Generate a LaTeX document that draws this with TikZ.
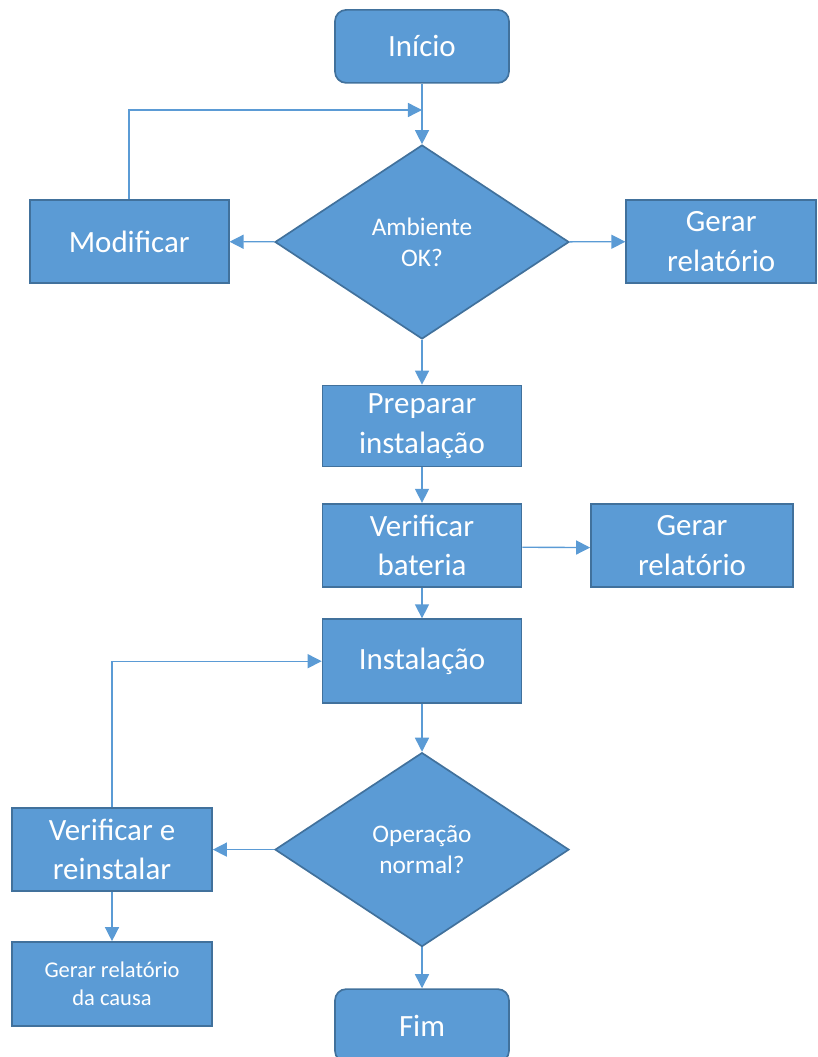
\documentclass[tikz,border=0pt]{standalone}
\usepackage{fontspec}
\setmainfont{Carlito}
\usetikzlibrary{shapes.geometric, arrows.meta, positioning}
\definecolor{boxblue}{HTML}{5B9BD5}
\definecolor{edgeblue}{HTML}{41719C}

\begin{document}
\begin{tikzpicture}[thick,
    main/.style = {draw=edgeblue, fill=boxblue, line width=1.2pt, text=white, align=center,
                   font=\fontsize{22}{28}\selectfont, minimum width=4.975cm, minimum height=2.075cm, inner sep=0pt},
    term/.style = {main, rounded corners=8pt, minimum width=4.35cm, minimum height=1.825cm},
    decision/.style = {main, diamond, minimum width=7.35cm, minimum height=4.85cm, font=\fontsize{18}{22}\selectfont},
    small/.style = {main, font=\fontsize{16}{20}\selectfont},
    flow/.style = {draw=boxblue, line width=1pt, -{Triangle[length=10pt, width=10pt]}}]
        \useasboundingbox (0,0) rectangle (20.425,-26.425);

        \node[term] (inicio)   at (10.55,-1.16)    {Início};
        \node[decision] (amb)  at (10.55,-6.05)    {Ambiente\\OK?};
        \node[main] (modif)    at (3.23,-6.04)     {Modificar};
        \node[main, minimum width=4.75cm] (rel1) at (18.03,-6.04) {Gerar\\relatório};
        \node[main, minimum height=2.025cm] (prep) at (10.55,-10.65) {Preparar\\instalação};
        \node[main] (bat)      at (10.55,-13.63)   {Verificar\\bateria};
        \node[main, minimum width=5.05cm] (rel2) at (17.3,-13.64) {Gerar\\relatório};
        \node[main, minimum height=2.1cm] (inst) at (10.55,-16.53) {Instalação};
        \node[decision] (oper) at (10.55,-21.24)   {Operação\\normal?};
        \node[main, minimum width=5cm] (verif) at (2.8,-21.24) {Verificar e\\reinstalar};
        \node[small, minimum width=5cm, minimum height=2.1cm] (causa) at (2.8,-24.6) {Gerar relatório\\da causa};
        \node[term] (fim)      at (10.55,-25.64)   {Fim};

        \coordinate (j1) at (10.55,-2.75);

        \draw[flow] (inicio) -- (amb);
        \draw[flow] (modif.north) |- (j1);
        \draw[flow] (amb) -- (modif);
        \draw[flow] (amb) -- (rel1);
        \draw[flow] (amb) -- (prep);
        \draw[flow] (prep) -- (bat);
        \draw[flow] ([yshift=-0.05cm]bat.east) -- ([yshift=-0.05cm]rel2.west);
        \draw[flow] (bat) -- (inst);
        \draw[flow] (inst) -- (oper);
        \draw[flow] (oper) -- (verif);
        \draw[flow] (verif.north) |- (inst.west);
        \draw[flow] (verif) -- (causa);
        \draw[flow] (oper) -- (fim);
    \end{tikzpicture}
\end{document}
